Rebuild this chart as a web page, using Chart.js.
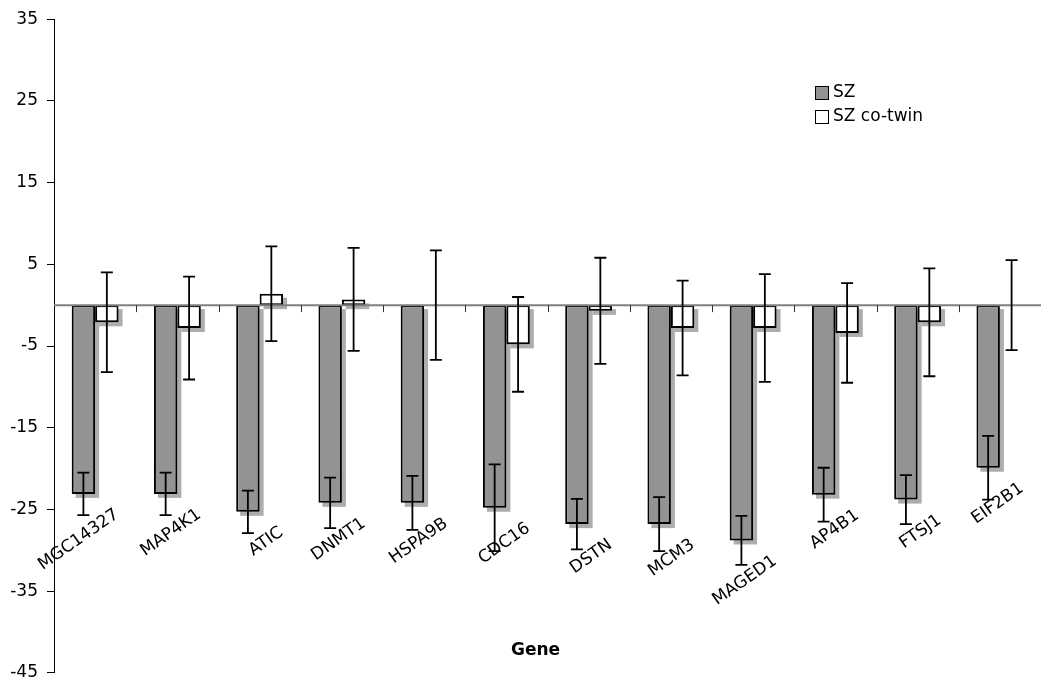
<!DOCTYPE html>
<html>
<head>
<meta charset="utf-8">
<script src="https://cdn.jsdelivr.net/npm/chart.js@4.4.0/dist/chart.umd.min.js"></script>
<style>
  html, body { margin: 0; padding: 0; background: #fff; }
  #wrap { width: 1041px; height: 692px; position: relative; }
</style>
</head>
<body>
<div id="wrap"><canvas id="c" width="1041" height="692"></canvas></div>
<script>
// ---- data ----
const genes = ['MGC14327','MAP4K1','ATIC','DNMT1','HSPA9B','CDC16','DSTN','MCM3','MAGED1','AP4B1','FTSJ1','EIF2B1'];
const szValues = [-23.1, -23.1, -25.3, -24.2, -24.2, -24.8, -26.8, -26.8, -28.8, -23.2, -23.8, -19.9];
const szErrors = [2.6, 2.6, 2.6, 3.1, 3.3, 5.3, 3.1, 3.3, 3.0, 3.3, 3.0, 3.9];
const coTwinValues = [-2.1, -2.8, 1.4, 0.7, 0, -4.8, -0.7, -2.8, -2.8, -3.4, -2.1, 0];
const coTwinErrors = [6.1, 6.3, 5.8, 6.3, 6.7, 5.8, 6.5, 5.8, 6.6, 6.1, 6.6, 5.5];
const yMin = -45, yMax = 35, yStep = 10;
const seriesNames = ['SZ', 'SZ co-twin'];
const xTitle = 'Gene';

const FONT = "'DejaVu Sans', Verdana, sans-serif";

const shadowPlugin = {
  id: 'barShadow',
  beforeDatasetsDraw(chart) {
    const ctx = chart.ctx;
    ctx.save();
    ctx.fillStyle = '#adadad';
    chart.data.datasets.forEach((ds, di) => {
      const meta = chart.getDatasetMeta(di);
      meta.data.forEach(bar => {
        const p = bar.getProps(['x', 'y', 'base', 'width'], true);
        const top = Math.min(p.y, p.base), h = Math.abs(p.y - p.base);
        if (h < 0.5) return;
        ctx.fillRect(p.x - p.width / 2 + 4, top + 4, p.width, h);
      });
    });
    ctx.restore();
  }
};

const overlayPlugin = {
  id: 'overlay',
  afterDatasetsDraw(chart) {
    const ctx = chart.ctx;
    const x = chart.scales.x, y = chart.scales.y;
    const area = chart.chartArea;
    const y0 = y.getPixelForValue(0);
    ctx.save();
    // category axis at zero
    ctx.strokeStyle = '#808080';
    ctx.lineWidth = 2;
    ctx.beginPath();
    ctx.moveTo(area.left, y0);
    ctx.lineTo(area.right, y0);
    ctx.stroke();
    // category boundary tick marks
    ctx.strokeStyle = '#333';
    ctx.lineWidth = 1;
    const cw = (area.right - area.left) / genes.length;
    for (let i = 1; i <= genes.length; i++) {
      const bx = Math.round(x.getPixelForValue(i - 1) + cw / 2) + 0.5;
      ctx.beginPath();
      ctx.moveTo(bx, y0);
      ctx.lineTo(bx, y0 + 7);
      ctx.stroke();
    }
    // error bars
    const errs = [szErrors, coTwinErrors];
    ctx.strokeStyle = '#000';
    ctx.lineWidth = 1.8;
    chart.data.datasets.forEach((ds, di) => {
      const meta = chart.getDatasetMeta(di);
      meta.data.forEach((bar, i) => {
        const v = ds.data[i];
        const e = errs[di][i];
        const cx = bar.x;
        const yt = y.getPixelForValue(v + e);
        const yb = y.getPixelForValue(v - e);
        ctx.beginPath();
        ctx.moveTo(cx, yt); ctx.lineTo(cx, yb);
        ctx.moveTo(cx - 6, yt); ctx.lineTo(cx + 6, yt);
        ctx.moveTo(cx - 6, yb); ctx.lineTo(cx + 6, yb);
        ctx.stroke();
      });
    });
    // category labels, placed under each SZ bar
    ctx.fillStyle = '#000';
    ctx.font = '17px ' + FONT;
    ctx.textAlign = 'right';
    ctx.textBaseline = 'top';
    const szMeta = chart.getDatasetMeta(0);
    genes.forEach((g, i) => {
      const cx = x.getPixelForValue(i);
      const bottom = Math.max(szMeta.data[i].y, szMeta.data[i].base);
      ctx.save();
      ctx.translate(cx + 17, bottom + 12);
      ctx.rotate(-35 * Math.PI / 180);
      ctx.fillText(g, 0, 0);
      ctx.restore();
    });
    // axis title
    ctx.font = 'bold 17px ' + FONT;
    ctx.textAlign = 'center';
    ctx.textBaseline = 'middle';
    ctx.fillText(xTitle, (area.left + area.right) / 2 - 12, area.bottom - 22);
    // legend
    const fills = chart.data.datasets.map(d => d.backgroundColor);
    ctx.font = '17px ' + FONT;
    ctx.textAlign = 'left';
    ctx.textBaseline = 'middle';
    seriesNames.forEach((n, i) => {
      const ly = 93 + i * 24;
      ctx.fillStyle = fills[i];
      ctx.fillRect(815.5, ly - 6.5, 13, 13);
      ctx.strokeStyle = '#000';
      ctx.lineWidth = 1;
      ctx.strokeRect(815.5, ly - 6.5, 13, 13);
      ctx.fillStyle = '#000';
      ctx.fillText(n, 833, ly);
    });
    ctx.restore();
  }
};

new Chart(document.getElementById('c'), {
  type: 'bar',
  data: {
    labels: genes,
    datasets: [
      { label: seriesNames[0], data: szValues, backgroundColor: '#939393', borderColor: '#000', borderWidth: 2, borderSkipped: false },
      { label: seriesNames[1], data: coTwinValues, backgroundColor: '#ffffff', borderColor: '#000', borderWidth: 2, borderSkipped: false }
    ]
  },
  options: {
    responsive: false,
    animation: false,
    devicePixelRatio: 1,
    layout: { padding: { top: 15, bottom: 15, left: 0, right: 0 } },
    datasets: { bar: { categoryPercentage: 0.57, barPercentage: 1.0 } },
    plugins: { legend: { display: false }, tooltip: { enabled: false } },
    scales: {
      x: { display: false, offset: true },
      y: {
        min: yMin, max: yMax,
        ticks: { stepSize: yStep, color: '#000', font: { family: FONT, size: 17 }, padding: 9 },
        grid: { drawOnChartArea: false, tickLength: 7, color: '#000', lineWidth: 1 },
        border: { color: '#000', width: 1 },
        afterFit(scale) { scale.width = 54; }
      }
    }
  },
  plugins: [shadowPlugin, overlayPlugin]
});
</script>
</body>
</html>
